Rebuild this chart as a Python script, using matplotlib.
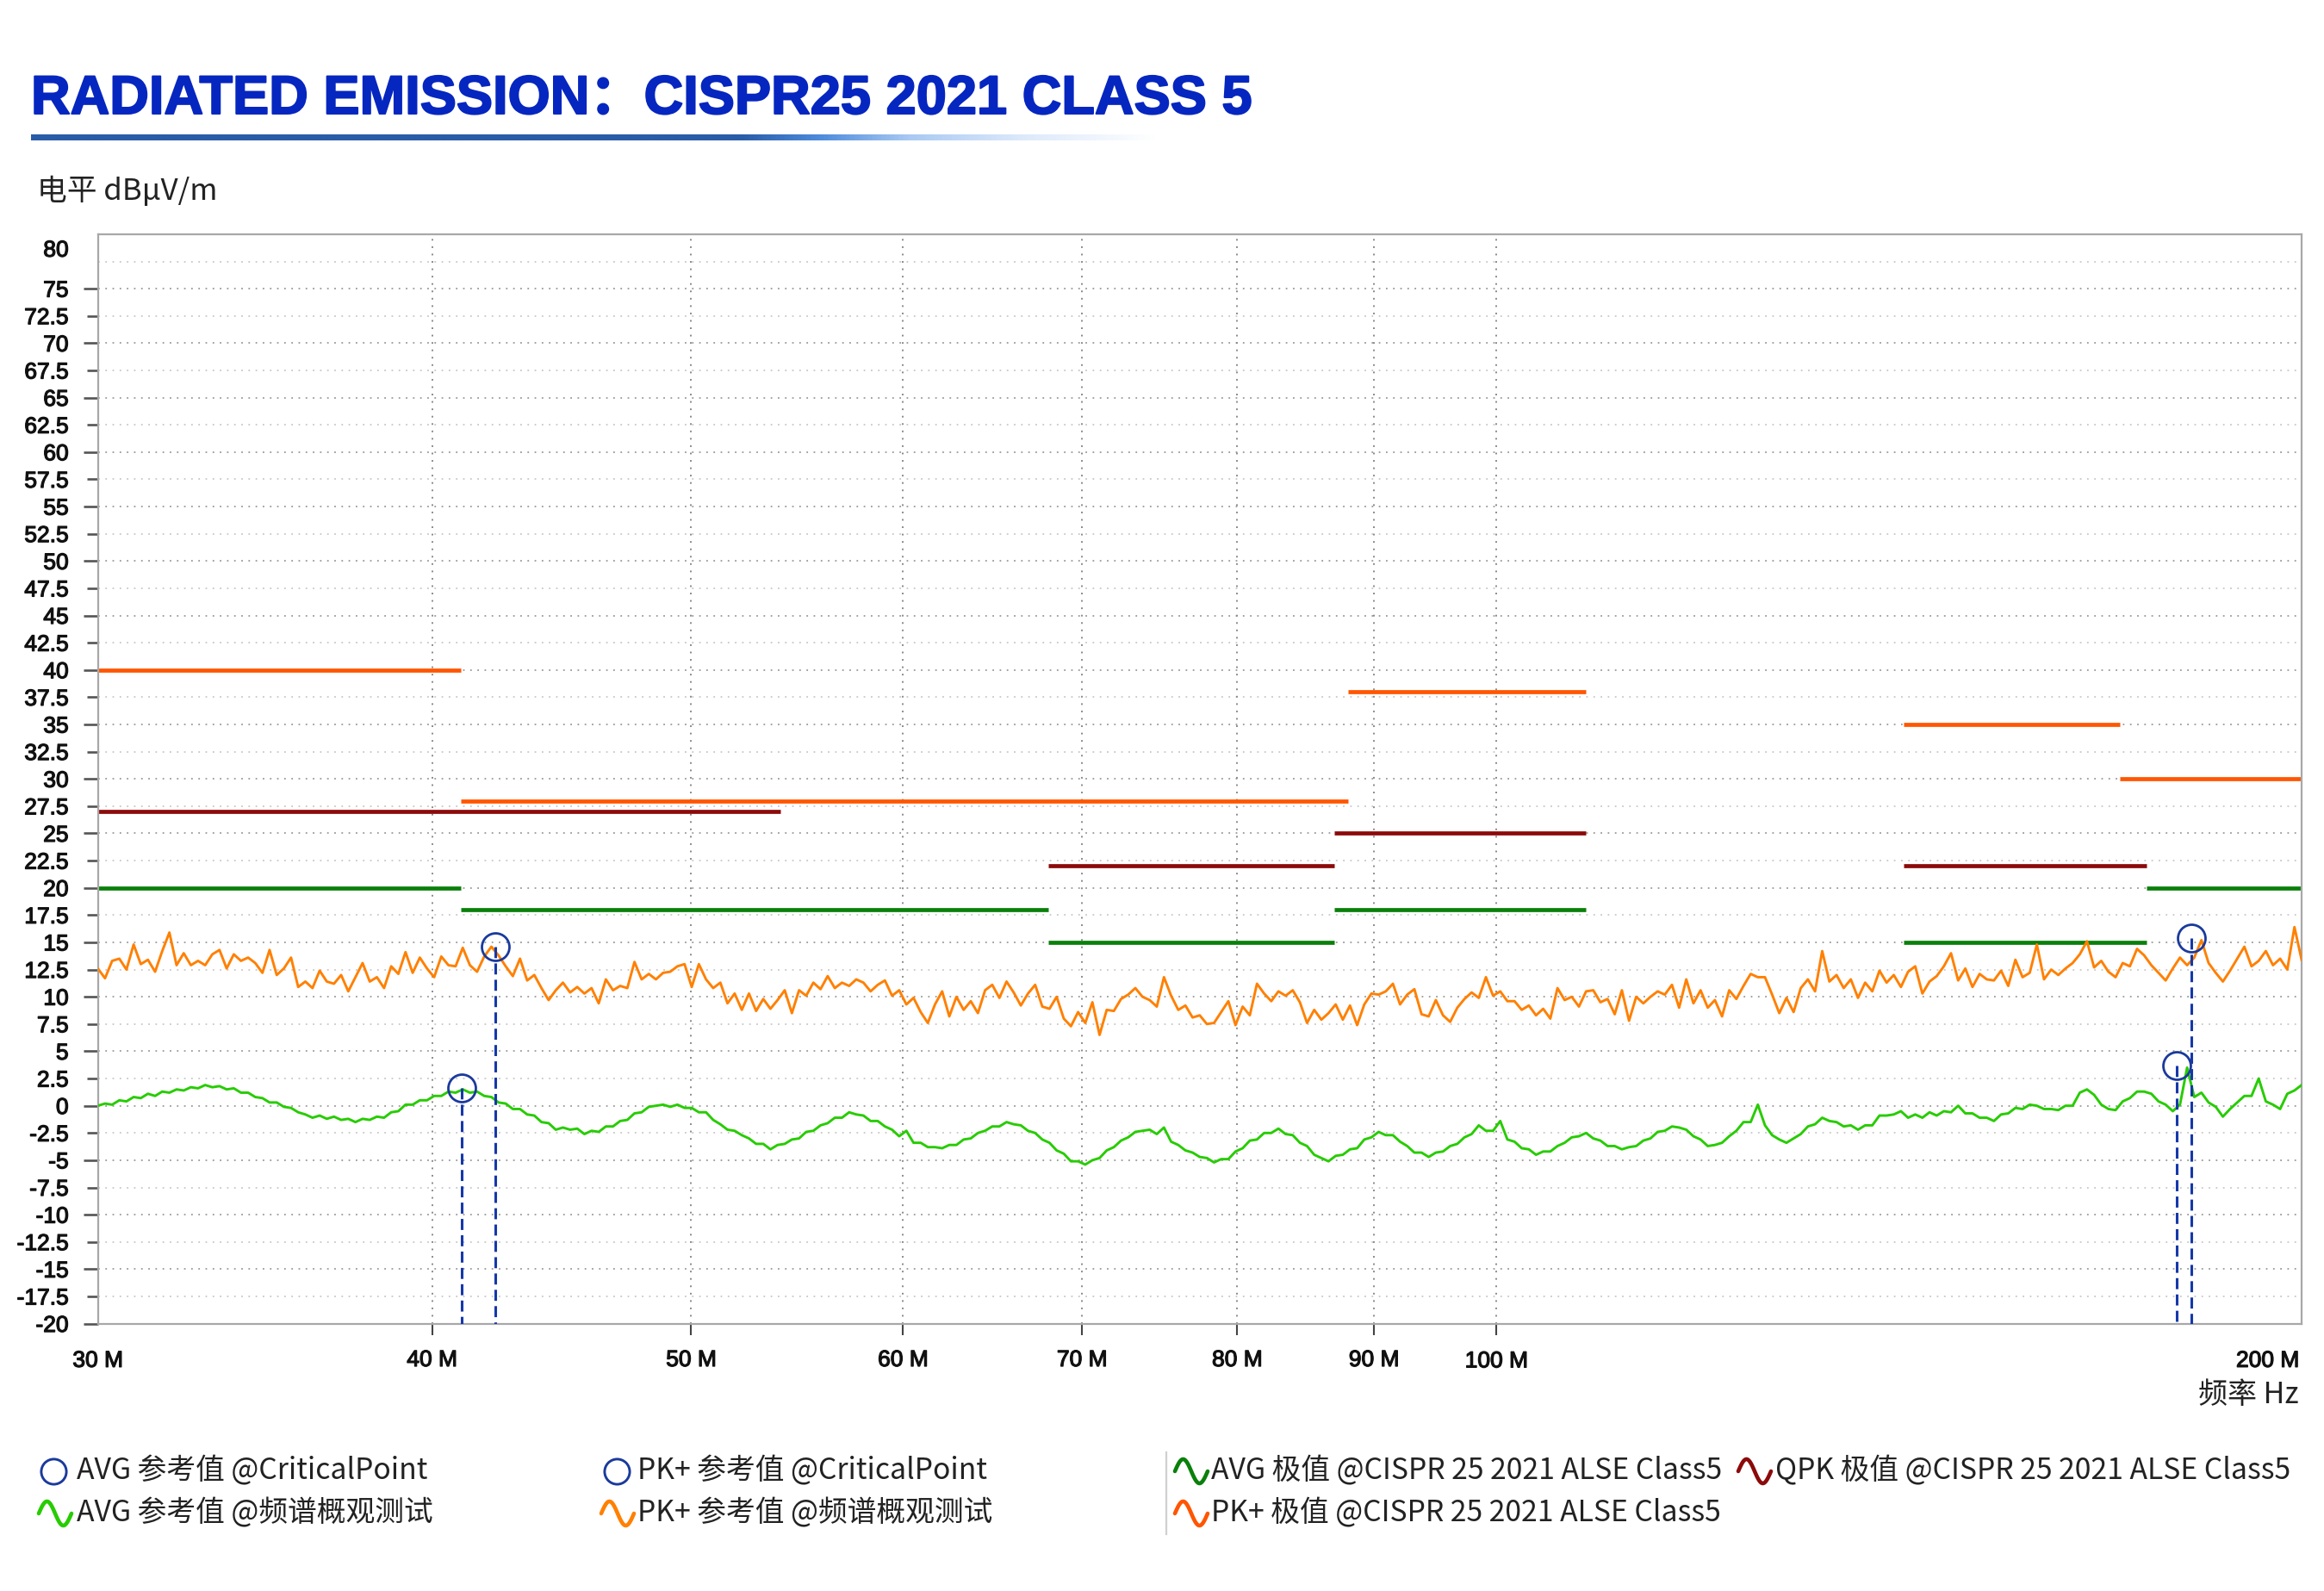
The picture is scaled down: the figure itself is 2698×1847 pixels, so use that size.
import numpy as np
import matplotlib
matplotlib.use("Agg")
import matplotlib.pyplot as plt
import matplotlib.patheffects as pe
from matplotlib.lines import Line2D
from matplotlib.ticker import NullLocator
from matplotlib.colors import LinearSegmentedColormap

# ---------------- data ----------------
# AVG reference trace (dBuV/m), sampled evenly on the log frequency axis 30..200 MHz
avg_trace = [
    0.0, 0.2, 0.1, 0.5, 0.4, 0.8, 0.7, 1.1, 0.9, 1.3,
    1.2, 1.5, 1.4, 1.7, 1.6, 1.9, 1.7, 1.8, 1.5, 1.6,
    1.2, 1.2, 0.8, 0.7, 0.3, 0.3, -0.1, -0.2, -0.6, -0.8,
    -1.1, -0.9, -1.2, -1.0, -1.3, -1.2, -1.5, -1.2, -1.3, -1.0,
    -1.1, -0.6, -0.5, 0.1, 0.1, 0.5, 0.5, 0.9, 0.9, 1.3,
    1.2, 1.5, 1.2, 1.3, 0.9, 0.8, 0.3, 0.2, -0.3, -0.3,
    -0.8, -0.9, -1.5, -1.6, -2.2, -2.0, -2.2, -2.1, -2.6, -2.3,
    -2.4, -1.9, -1.9, -1.4, -1.3, -0.7, -0.6, -0.1, 0.0,
    0.1, -0.1, 0.1, -0.2, -0.2, -0.6, -0.6, -1.3, -1.7, -2.2,
    -2.3, -2.7, -3.0, -3.5, -3.5, -4.0, -3.6, -3.5, -3.1, -3.0,
    -2.4, -2.3, -1.8, -1.6, -1.1, -1.1, -0.6, -0.8, -0.9, -1.4,
    -1.4, -1.9, -2.2, -2.8, -2.3, -3.4, -3.4, -3.8, -3.8, -3.9,
    -3.6, -3.6, -3.1, -3.0, -2.5, -2.3, -1.9, -1.9, -1.5, -1.7,
    -1.8, -2.3, -2.5, -3.1, -3.4, -4.1, -4.4, -5.1, -5.1, -5.4,
    -5.0, -4.8, -4.1, -3.8, -3.2, -2.9, -2.4, -2.3, -2.2, -2.6,
    -2.0, -3.3, -3.6, -4.1, -4.3, -4.7, -4.8,
    -5.2, -4.9, -4.9, -4.2, -3.9, -3.2, -3.1, -2.5, -2.5, -2.1,
    -2.6, -2.7, -3.4, -3.7, -4.5, -4.8, -5.1, -4.6, -4.5, -4.0,
    -3.9, -3.1, -2.9, -2.4, -2.7, -2.7, -3.3, -3.7, -4.3, -4.3,
    -4.7, -4.3, -4.2, -3.7, -3.5, -2.9, -2.6, -1.8, -2.3, -2.3,
    -1.4, -3.1, -3.3, -3.9, -4.0, -4.5, -4.2, -4.2, -3.7, -3.4,
    -2.9, -2.8, -2.5, -3.0, -3.2, -3.7, -3.7, -4.0, -3.8, -3.7,
    -3.2, -3.0, -2.4, -2.3, -1.9, -2.0, -2.2, -2.8, -3.1, -3.7,
    -3.6, -3.4, -2.8, -2.3, -1.5, -1.5, 0.1,
    -1.8, -2.7, -3.1, -3.4, -3.0, -2.6, -1.9, -1.7, -1.1, -1.4,
    -1.5, -1.9, -1.8, -2.2, -1.8, -1.8, -0.9, -0.9, -0.8, -0.5,
    -1.1, -0.8, -1.1, -0.6, -0.9, -0.5, -0.6, 0.0, -0.7, -0.7,
    -1.1, -1.1, -1.4, -0.8, -0.7, -0.2, -0.3, 0.1, 0.0, -0.3,
    -0.3, -0.4, 0.0, 0.0, 1.2, 1.5, 1.0, 0.1, -0.3, -0.4,
    0.4, 0.7, 1.3, 1.3, 1.1, 0.4, 0.1, -0.5, 0.1, 3.5,
    0.8, 1.2, 0.3, -0.1, -1.0, -0.3, 0.3, 0.9, 0.9, 2.5,
    0.4, 0.1, -0.3, 1.1, 1.4, 1.9,
]

# PK+ reference trace (dBuV/m), same sampling
pk_trace = [
    12.6, 11.7, 13.3, 13.5, 12.5, 14.8, 13.0, 13.4, 12.3, 14.2,
    15.9, 12.9, 14.0, 12.9, 13.3, 12.9, 13.9, 14.3, 12.6, 13.9,
    13.3, 13.6, 13.1, 12.2, 14.3, 12.0, 12.6, 13.6, 10.9, 11.4,
    10.8, 12.4, 11.4, 11.2, 12.0, 10.5, 11.8, 13.1, 11.4, 11.8,
    10.8, 12.8, 12.1, 14.1, 12.2, 13.6, 12.6, 11.8, 13.7, 12.9,
    12.8, 14.5, 12.9, 12.3, 13.7, 14.6, 13.8, 12.8, 11.9, 13.5,
    11.5, 12.0, 10.8, 9.7, 10.6, 11.3, 10.4, 10.9, 10.3, 10.8,
    9.4, 11.6, 10.6, 11.0, 10.8, 13.2, 11.6, 12.1, 11.6,
    12.2, 12.3, 12.8, 13.0, 10.9, 13.0, 11.6, 10.8, 11.3, 9.4,
    10.3, 8.8, 10.3, 8.7, 9.8, 8.9, 9.7, 10.6, 8.5, 10.6,
    10.1, 11.3, 10.7, 11.9, 10.8, 11.3, 11.0, 11.6, 11.3, 10.5,
    11.1, 11.5, 10.1, 10.6, 9.3, 9.9, 8.6, 7.6, 9.3, 10.5,
    8.2, 10.0, 8.8, 9.6, 8.5, 10.6, 11.1, 9.9, 11.4, 10.4,
    9.2, 10.3, 11.1, 9.1, 8.9, 10.0, 8.0, 7.3, 8.6, 7.6,
    9.5, 6.5, 8.8, 8.7, 9.8, 10.2, 10.8, 10.0, 9.7, 9.1,
    11.8, 10.1, 8.8, 9.2, 8.1, 8.3, 7.5,
    7.6, 8.6, 9.6, 7.4, 9.1, 8.3, 11.2, 10.3, 9.6, 10.5,
    10.1, 10.6, 9.5, 7.6, 8.8, 7.9, 8.5, 9.3, 7.9, 9.2,
    7.4, 9.3, 10.3, 10.2, 10.5, 11.2, 9.3, 10.2, 10.7, 8.4,
    8.2, 9.7, 8.3, 7.7, 9.0, 9.8, 10.4, 9.9, 11.8, 10.1,
    10.5, 9.6, 9.6, 8.8, 9.2, 8.3, 8.9, 8.0, 10.8, 9.7,
    10.0, 9.1, 10.5, 10.6, 9.5, 9.8, 8.4, 10.6, 7.8, 10.0,
    9.4, 10.0, 10.5, 10.2, 11.1, 9.0, 11.6, 9.4, 10.6, 9.0,
    9.7, 8.2, 10.6, 9.8, 11.0, 12.1, 11.8,
    11.8, 10.2, 8.5, 9.9, 8.6, 10.8, 11.6, 10.5, 14.2, 11.4,
    12.0, 10.8, 11.6, 9.9, 11.3, 10.5, 12.4, 11.3, 12.0, 10.9,
    12.3, 12.8, 10.3, 11.4, 11.9, 12.8, 14.0, 11.5, 12.6, 10.9,
    12.1, 11.6, 11.5, 12.4, 11.0, 13.4, 11.8, 12.2, 14.8, 11.6,
    12.5, 12.0, 12.6, 13.1, 13.9, 15.1, 12.7, 13.3, 12.3, 11.8,
    13.1, 12.8, 14.4, 13.8, 12.9, 12.2, 11.5, 12.6, 13.6, 12.9,
    13.6, 15.2, 13.1, 12.2, 11.4, 12.4, 13.5, 14.6, 12.8, 13.3,
    14.2, 12.9, 13.5, 12.5, 16.4, 13.4,
]

# CISPR 25 2021 ALSE Class 5 limits (MHz, dBuV/m)
pk_lim_start = [30, 41, 88, 142, 171]
pk_lim_stop = [41, 88, 108, 171, 200]
pk_lim_level = [40, 28, 38, 35, 30]

qpk_lim_start = [30, 68, 87, 142]
qpk_lim_stop = [54, 87, 108, 175]
qpk_lim_level = [27, 22, 25, 22]

avg_lim_start = [30, 41, 68, 87, 142, 175]
avg_lim_stop = [41, 68, 87, 108, 175, 200]
avg_lim_level = [20, 18, 15, 18, 15, 20]

# critical points
crit_pk_freq = [42.23, 181.9]
crit_pk_level = [14.6, 15.4]
crit_avg_freq = [41.04, 179.6]
crit_avg_level = [1.6, 3.7]

x_tick_freqs = [40, 50, 60, 70, 80, 90, 100]
x_tick_labels = ["40 M", "50 M", "60 M", "70 M", "80 M", "90 M", "100 M"]
y_major = [-20, -15, -10, -5, 0, 5, 10, 15, 20, 25, 30, 35, 40, 45, 50, 55, 60, 65, 70, 75]
y_minor = [-17.5, -12.5, -7.5, -2.5, 2.5, 7.5, 12.5, 17.5, 22.5, 27.5, 32.5, 37.5,
           42.5, 47.5, 52.5, 57.5, 62.5, 67.5, 72.5]
y_grid_extra = [77.5]

title = "RADIATED EMISSION：CISPR25 2021 CLASS 5"

# ---------------- style ----------------
LAT = ["Liberation Sans", "Noto Sans CJK SC", "DejaVu Sans"]
CJK = ["Noto Sans CJK SC", "DejaVu Sans"]
plt.rcParams["font.family"] = LAT

C_PK_TR = "#FF8000"
C_AVG_TR = "#27CC00"
C_PK_LIM = "#FF5500"
C_QPK_LIM = "#8C0A0A"
C_AVG_LIM = "#0A800A"
C_MARK = "#1A3A9C"
C_DASH = "#1538A8"
TXT = "#111111"

W, H = 2698, 1847
def fx(px):
    return px / W
def fy(py):
    return 1 - py / H

bold_fx = [pe.withStroke(linewidth=0.9, foreground=TXT)]

fig = plt.figure(figsize=(W / 100, H / 100), dpi=100)
fig.patch.set_facecolor("white")

ax_l, ax_r, ax_t, ax_b = 113.6, 2672.0, 271.9, 1536.6
ax = fig.add_axes([fx(ax_l), fy(ax_b), (ax_r - ax_l) / W, (ax_b - ax_t) / H])
ax.set_xscale("log")
ax.set_xlim(30, 200)
ax.set_ylim(-20, 80)

# grid
for v in y_major:
    ax.axhline(v, color="#9a9a9a", lw=1.3, ls=(0, (1, 3.6)), zorder=0.5)
for v in y_minor + y_grid_extra:
    ax.axhline(v, color="#c8c8c8", lw=1.3, ls=(0, (1, 3.6)), zorder=0.5)
for f in x_tick_freqs:
    ax.axvline(f, color="#8a8a8a", lw=1.4, ls=(0, (1, 3.4)), zorder=0.6)

# limits
for s, e, l in zip(avg_lim_start, avg_lim_stop, avg_lim_level):
    ax.plot([s, e], [l, l], color=C_AVG_LIM, lw=3.4, solid_capstyle="butt", zorder=2)
for s, e, l in zip(qpk_lim_start, qpk_lim_stop, qpk_lim_level):
    ax.plot([s, e], [l, l], color=C_QPK_LIM, lw=3.4, solid_capstyle="butt", zorder=2)
for s, e, l in zip(pk_lim_start, pk_lim_stop, pk_lim_level):
    ax.plot([s, e], [l, l], color=C_PK_LIM, lw=3.4, solid_capstyle="butt", zorder=2)

# traces
f_pk = np.geomspace(30, 200, len(pk_trace))
f_avg = np.geomspace(30, 200, len(avg_trace))
ax.plot(f_pk, pk_trace, color=C_PK_TR, lw=2.1, zorder=3)
ax.plot(f_avg, avg_trace, color=C_AVG_TR, lw=2.1, zorder=3)

# critical points
for f, v in zip(crit_pk_freq + crit_avg_freq, crit_pk_level + crit_avg_level):
    ax.plot([f, f], [v, -20], color=C_DASH, lw=2.2, ls=(0, (4.2, 2.0)), zorder=4)
ax.plot(crit_pk_freq, crit_pk_level, "o", ms=23, mfc="none", mec=C_MARK, mew=2.0, zorder=5)
ax.plot(crit_avg_freq, crit_avg_level, "o", ms=23, mfc="none", mec=C_MARK, mew=2.0, zorder=5)

# spines
for side in ["left", "right", "top", "bottom"]:
    ax.spines[side].set_color("#a8a8a8")
    ax.spines[side].set_linewidth(1.6)

# ticks
ax.xaxis.set_minor_locator(NullLocator())
ax.set_xticks(x_tick_freqs, labels=x_tick_labels)
ax.set_yticks(y_major, labels=[f"{v:g}" for v in y_major])
ax.set_yticks(y_minor, labels=[f"{v:g}" for v in y_minor], minor=True)
ax.tick_params(axis="y", which="major", direction="out", length=12, width=1.9,
               color="#555555", pad=12.5, labelsize=19, labelcolor=TXT)
ax.tick_params(axis="y", which="minor", direction="out", length=9.6, width=1.9,
               color="#555555", pad=14.9, labelsize=19, labelcolor=TXT)
ax.tick_params(axis="x", which="major", direction="out", length=9.4, width=1.5,
               color="#444444", pad=12.5, labelsize=19, labelcolor=TXT)
t100 = ax.xaxis.get_major_ticks()[6]
t100.tick1line.set_markersize(11.5)
t100.set_pad(13.5)
for lbl in ax.get_yticklabels(which="both") + ax.get_xticklabels():
    lbl.set_path_effects(bold_fx)

ax.annotate("80", xy=(0, 80), xycoords=("axes fraction", "data"),
            xytext=(-24.5, -5), textcoords="offset points",
            ha="right", va="top", fontsize=19, color=TXT, path_effects=bold_fx)
ax.annotate("30 M", xy=(30, -20), xycoords="data", xytext=(0, -22.5),
            textcoords="offset points", ha="center", va="top", fontsize=19, color=TXT,
            path_effects=bold_fx)
ax.annotate("200 M", xy=(200, -20), xycoords="data", xytext=(-2, -22.5),
            textcoords="offset points", ha="right", va="top", fontsize=19, color=TXT,
            path_effects=bold_fx)

# axis titles
fig.text(fx(43), fy(222), "电平 dBμV/m", ha="left", va="center", fontsize=25,
         family=CJK, color="#222222")
fig.text(fx(2669), fy(1620), "频率 Hz", ha="right", va="center", fontsize=24.5,
         family=CJK, color="#222222")

# title
fig.text(fx(36), fy(132), title, ha="left", va="baseline", fontsize=45.5,
         fontweight="bold", color="#0626C0", family=LAT,
         path_effects=[pe.withStroke(linewidth=1.4, foreground="#0626C0")])

# gradient underline
gax = fig.add_axes([fx(36), fy(163), (1345 - 36) / W, 7 / H])
gax.axis("off")
cmap = LinearSegmentedColormap.from_list("bar", [
    (0.0, "#2A5CA8"), (0.63, "#2A5CA8"), (0.70, "#4D8BDC"),
    (0.78, "#A9C9F3"), (0.88, "#DCE9FB"), (1.0, "#FFFFFF")])
gax.imshow(np.linspace(0, 1, 512)[None, :], aspect="auto", cmap=cmap,
           extent=[0, 1, 0, 1])

# legend
row1, row2 = 1708, 1757
def circle_icon(cx, cy):
    fig.add_artist(Line2D([fx(cx)], [fy(cy)], marker="o", ms=21, mfc="none",
                          mec=C_MARK, mew=2.1, transform=fig.transFigure))
def wave_icon(cx, cy, color):
    t = np.linspace(0, 1, 60)
    xs = fx(cx) + (t - 0.5) * 38 / W
    ys = fy(cy) + 14 / H * np.sin(2 * np.pi * t)
    fig.add_artist(Line2D(xs, ys, color=color, lw=3.3, transform=fig.transFigure,
                          solid_capstyle="round"))

leg_fs = 24.3
circle_icon(62, row1)
fig.text(fx(89), fy(row1), "AVG 参考值 @CriticalPoint", va="center", fontsize=leg_fs, family=CJK, color="#222222")
circle_icon(716, row1)
fig.text(fx(740), fy(row1), "PK+ 参考值 @CriticalPoint", va="center", fontsize=leg_fs, family=CJK, color="#222222")
wave_icon(64, row2, C_AVG_TR)
fig.text(fx(89), fy(row2), "AVG 参考值 @频谱概观测试", va="center", fontsize=leg_fs, family=CJK, color="#222222")
wave_icon(717, row2, C_PK_TR)
fig.text(fx(740), fy(row2), "PK+ 参考值 @频谱概观测试", va="center", fontsize=leg_fs, family=CJK, color="#222222")

fig.add_artist(Line2D([fx(1354), fx(1354)], [fy(1686), fy(1781)], color="#d0d0d0", lw=1.6,
                      transform=fig.transFigure))
wave_icon(1383, row1, C_AVG_LIM)
fig.text(fx(1406), fy(row1), "AVG 极值 @CISPR 25 2021 ALSE Class5", va="center", fontsize=leg_fs, family=CJK, color="#222222")
wave_icon(2037, row1, C_QPK_LIM)
fig.text(fx(2061), fy(row1), "QPK 极值 @CISPR 25 2021 ALSE Class5", va="center", fontsize=leg_fs, family=CJK, color="#222222")
wave_icon(1383, row2, C_PK_LIM)
fig.text(fx(1406), fy(row2), "PK+ 极值 @CISPR 25 2021 ALSE Class5", va="center", fontsize=leg_fs, family=CJK, color="#222222")

fig.savefig("out.png", dpi=100, facecolor="white")
